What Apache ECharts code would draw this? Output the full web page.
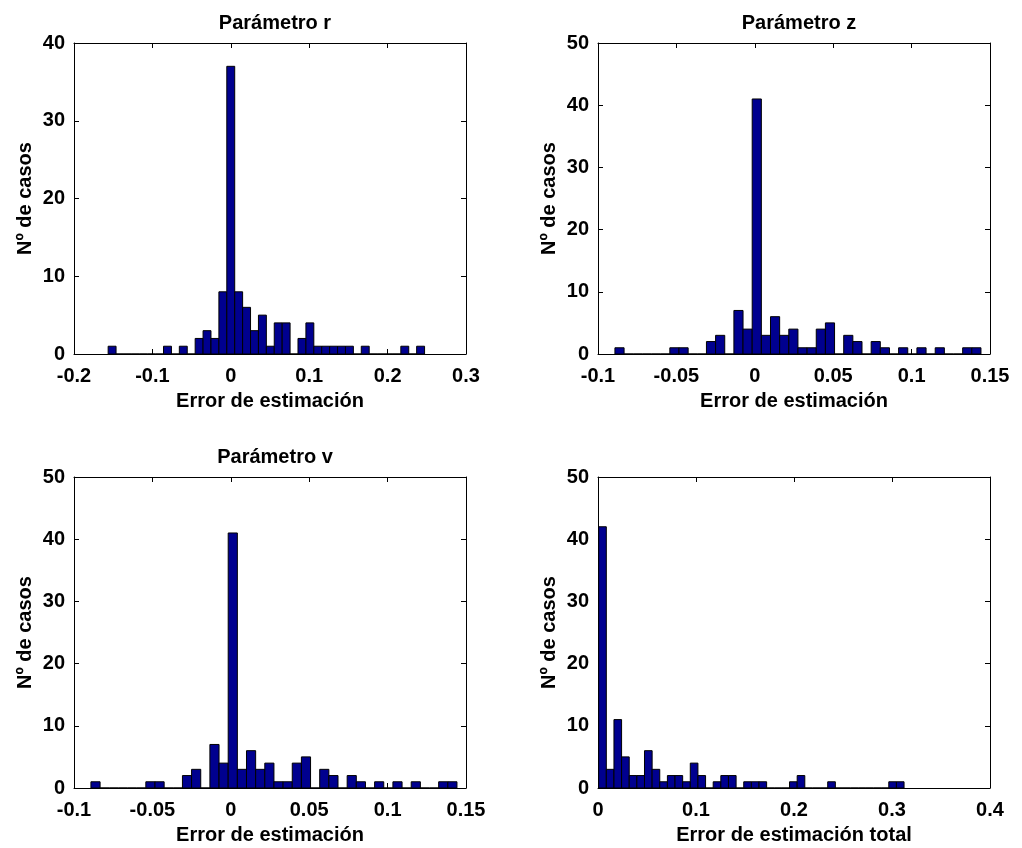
<!DOCTYPE html>
<html><head><meta charset="utf-8">
<script src="https://cdn.jsdelivr.net/npm/echarts@6/dist/echarts.min.js"></script>
<style>html,body{margin:0;padding:0;background:#fff}#c{width:1022px;height:848px}</style>
</head><body><div id="c"></div>
<script>
// Histogram bins (40 bins each): first bin left edge, bin width, counts
const rStart = -0.15645, rWidth = 0.01009;
const rCounts = [1,0,0,0,0,0,0,1,0,1,0,2,3,2,8,37,8,6,3,5,1,4,4,0,2,4,1,1,1,1,1,0,1,0,0,0,0,1,0,1];
const zStart = -0.0892, zWidth = 0.005836;
const zCounts = [1,0,0,0,0,0,1,1,0,0,2,3,0,7,4,41,3,6,3,4,1,1,4,5,0,3,2,0,2,1,0,1,0,1,0,1,0,0,1,1];
const vStart = -0.0892, vWidth = 0.005836;
const vCounts = [1,0,0,0,0,0,1,1,0,0,2,3,0,7,4,41,3,6,3,4,1,1,4,5,0,3,2,0,2,1,0,1,0,1,0,1,0,0,1,1];
const tStart = 0.0007, tWidth = 0.00779;
const tCounts = [42,3,11,5,2,2,6,3,1,2,2,1,4,2,0,1,2,2,0,1,1,1,0,0,0,1,2,0,0,0,1,0,0,0,0,0,0,0,1,1];

const titles = ['Parámetro r','Parámetro z','Parámetro v',''];
const xNames = ['Error de estimación','Error de estimación','Error de estimación','Error de estimación total'];
const yName = 'Nº de casos';
const xRanges = [[-0.2,0.3,0.1],[-0.1,0.15,0.05],[-0.1,0.15,0.05],[0,0.4,0.1]];
const yRanges = [[0,40,10],[0,50,10],[0,50,10],[0,50,10]];

const hists = [[rStart,rWidth,rCounts],[zStart,zWidth,zCounts],[vStart,vWidth,vCounts],[tStart,tWidth,tCounts]];

const FONT = 'Liberation Sans, Arial, sans-serif';
const FS = 20;
const grids = [
  {left:74, top:43, width:392, height:311},
  {left:598, top:43, width:392, height:311},
  {left:74, top:477, width:392, height:311},
  {left:598, top:477, width:392, height:311}
];
const fmt = v => String(+v.toFixed(3));
const option = {animation:false, backgroundColor:'#fff', grid:grids, xAxis:[], yAxis:[], series:[], title:[]};
const lineStyle = {color:'#000', width:1};
grids.forEach((g,i)=>{
  const [xmin,xmax,xint] = xRanges[i];
  const [ymin,ymax,yint] = yRanges[i];
  option.xAxis.push({type:'value', gridIndex:i, position:'bottom', min:xmin, max:xmax, interval:xint,
    axisLine:{show:true, onZero:false, lineStyle}, axisTick:{show:true, inside:true, length:5, lineStyle},
    axisLabel:{show:true, margin:12, color:'#000', fontSize:FS, fontFamily:FONT, fontWeight:'bold', formatter:fmt},
    splitLine:{show:false}, name:xNames[i], nameLocation:'middle', nameGap:37,
    nameTextStyle:{color:'#000', fontSize:FS, fontFamily:FONT, fontWeight:'bold'}});
  option.xAxis.push({type:'value', gridIndex:i, position:'top', min:xmin, max:xmax, interval:xint,
    axisLine:{show:true, onZero:false, lineStyle}, axisTick:{show:true, inside:true, length:5, lineStyle},
    axisLabel:{show:false}, splitLine:{show:false}});
  option.yAxis.push({type:'value', gridIndex:i, position:'left', min:ymin, max:ymax, interval:yint,
    axisLine:{show:true, onZero:false, lineStyle}, axisTick:{show:true, inside:true, length:5, lineStyle},
    axisLabel:{show:true, margin:9, color:'#000', fontSize:FS, fontFamily:FONT, fontWeight:'bold'},
    splitLine:{show:false}, name:yName, nameLocation:'middle', nameGap:39,
    nameTextStyle:{color:'#000', fontSize:FS, fontFamily:FONT, fontWeight:'bold'}});
  option.yAxis.push({type:'value', gridIndex:i, position:'right', min:ymin, max:ymax, interval:yint,
    axisLine:{show:true, onZero:false, lineStyle}, axisTick:{show:true, inside:true, length:5, lineStyle},
    axisLabel:{show:false}, splitLine:{show:false}});
  if (titles[i]) option.title.push({text:titles[i], left:g.left+g.width/2, top:g.top-35, textAlign:'center',
    textStyle:{color:'#000', fontSize:FS, fontFamily:FONT, fontWeight:'bold'}});
  const [start,w,counts] = hists[i];
  const data = counts.map((c,k)=>[start + (k+0.5)*w, c]);
  option.series.push({type:'custom', xAxisIndex:2*i, yAxisIndex:2*i, data:data, clip:true,
    renderItem:(params, api)=>{
      const c = api.value(0), n = api.value(1);
      const p1 = api.coord([c - w/2, n]);
      const p2 = api.coord([c + w/2, 0]);
      return {type:'rect', shape:{x:p1[0], y:p1[1], width:p2[0]-p1[0], height:p2[1]-p1[1]},
        style:{fill:'#00008F', stroke:'#000', lineWidth:1}};
    }});
});
const chart = echarts.init(document.getElementById('c'), null, {renderer:'canvas'});
chart.setOption(option);
</script></body></html>
